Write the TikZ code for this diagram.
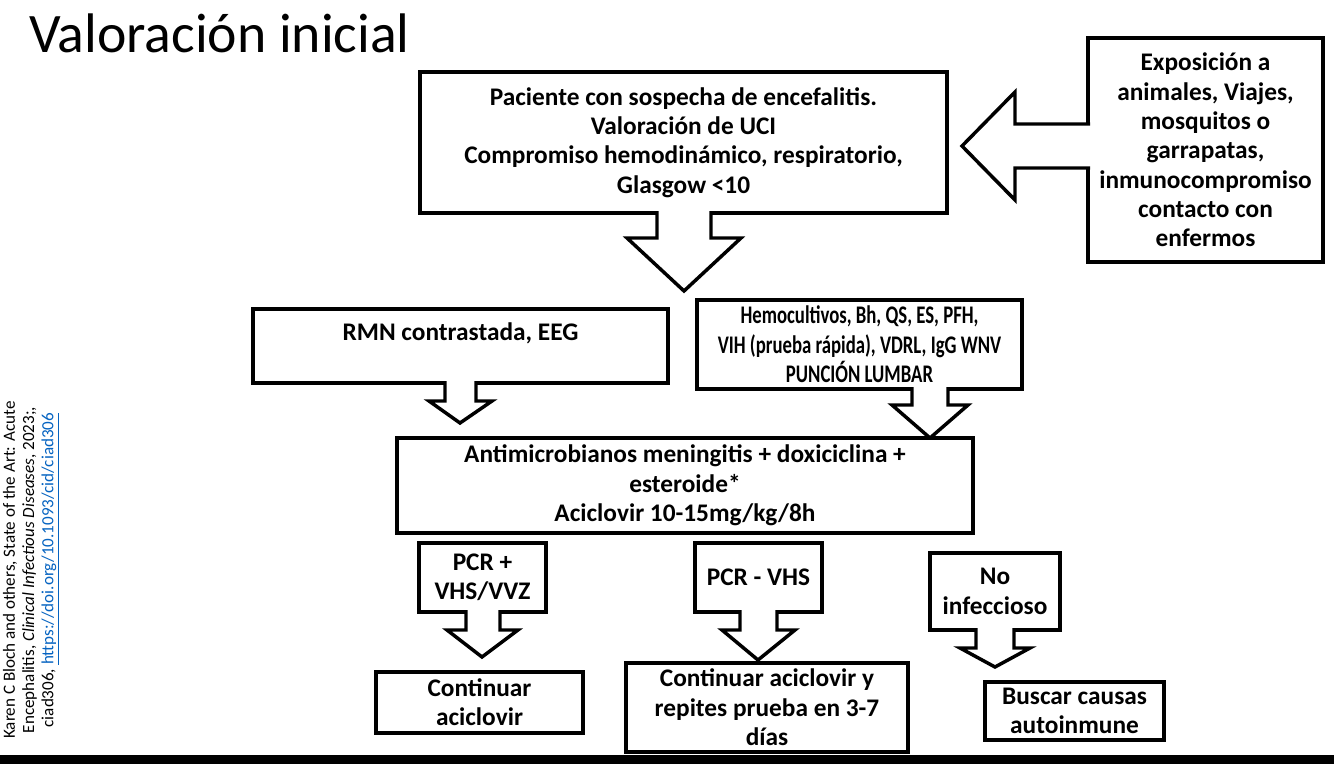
\documentclass[tikz,border=0pt]{standalone}
\usepackage{fontspec}
\setmainfont{Carlito}
\newfontfamily\narrowfont[FakeStretch=0.74]{Carlito}
\usepackage{xcolor}
\definecolor{linkblue}{RGB}{5,99,193}

\begin{document}
\begin{tikzpicture}[x=0.75pt,y=-0.75pt,
	box/.style={draw,line width=2.6pt,fill=white,align=center,inner sep=0pt,
		font=\fontsize{19}{22}\selectfont\bfseries},
	shaft/.style={draw,line width=2.6pt,fill=white,line join=miter}]
	\useasboundingbox (0,0) rectangle (1334,764);
	\fill [white] (0,0) rectangle (1334,764);
	\fill [black] (0,755) rectangle (1334,764);
	% title and source
	\node [anchor=base west,inner sep=0pt,font=\fontsize{41.8}{48}\selectfont] (title) at (29,52) {Valoración inicial};
	\node [rotate=90,align=center,font=\fontsize{12.8}{14.5}\selectfont] (source) at (31,570)
		{Karen C Bloch and others, State of the Art: Acute\\
		Encephalitis, \textit{Clinical Infectious Diseases}, 2023;,\\
		ciad306, \textcolor{linkblue}{\underline{https://doi.org/10.1093/cid/ciad306}}};
	% first row
	\node [box,minimum width=395.25pt,minimum height=105.75pt] (paciente) at (683.5,142.5)
		{Paciente con sospecha de encefalitis.\\ Valoración de UCI\\
		Compromiso hemodinámico, respiratorio,\\ Glasgow <10};
	\draw [shaft] (657,211) -- (657,238) -- (627,238) -- (684,291) -- (741,238) -- (711,238) -- (711,211);
	\node [box,minimum width=176.25pt,minimum height=168pt] (exposicion) at (1205.5,150)
		{Exposición a\\ animales, Viajes,\\ mosquitos o\\ garrapatas,\\ inmunocompromiso\\ contacto con\\ enfermos};
	\draw [shaft] (1090,124) -- (1015,124) -- (1015,92) -- (962,146) -- (1015,200) -- (1015,168) -- (1090,168);
	% studies
	\node [box,minimum width=311.25pt,minimum height=55.5pt] (rmn) at (460.5,346)
		{RMN contrastada, EEG\\ \mbox{}};
	\draw [shaft] (445,381) -- (445,401) -- (429,401) -- (460,423) -- (492,401) -- (476,401) -- (476,381);
	\node [box,minimum width=243.75pt,minimum height=66.75pt,font=\fontsize{19}{22}\selectfont\narrowfont\bfseries] (labs) at (859.5,344.5)
		{Hemocultivos, Bh, QS, ES, PFH,\\ VIH (prueba rápida), VDRL, IgG WNV\\ PUNCIÓN LUMBAR};
	\draw [shaft] (912,387) -- (912,405) -- (892,405) -- (930,438) -- (968,405) -- (948,405) -- (948,387);
	% treatment
	\node [box,minimum width=432pt,minimum height=71.25pt] (tratamiento) at (685,485.5)
		{Antimicrobianos meningitis + doxiciclina +\\ esteroide*\\ Aciclovir 10-15mg/kg/8h};
	% results
	\node [box,minimum width=95.25pt,minimum height=51.75pt] (pcrpos) at (482.5,577.5)
		{PCR +\\ VHS/VVZ};
	\draw [shaft] (466,610) -- (466,630) -- (447,630) -- (482,657) -- (518,630) -- (500,630) -- (500,610);
	\node [box,minimum width=95.25pt,minimum height=51.75pt] (pcrneg) at (758.5,577.5)
		{PCR - VHS};
	\draw [shaft] (740,610) -- (740,630) -- (722,630) -- (758,660) -- (795,630) -- (777,630) -- (777,610);
	\node [box,minimum width=97.5pt,minimum height=57.75pt] (noinf) at (995,591.5)
		{No\\ infeccioso};
	\draw [shaft] (976,628) -- (976,648) -- (960,648) -- (995,667) -- (1030,648) -- (1014,648) -- (1014,628);
	% outcomes
	\node [box,minimum width=155.25pt,minimum height=45.75pt] (continuar) at (479.5,702.5)
		{Continuar\\ aciclovir};
	\node [box,minimum width=211.5pt,minimum height=66.75pt] (repetir) at (767,707.5)
		{Continuar aciclovir y\\ repites prueba en 3-7\\ días};
	\node [box,minimum width=134.25pt,minimum height=43.5pt] (buscar) at (1074.5,711)
		{Buscar causas\\ autoinmune};
\end{tikzpicture}
\end{document}
